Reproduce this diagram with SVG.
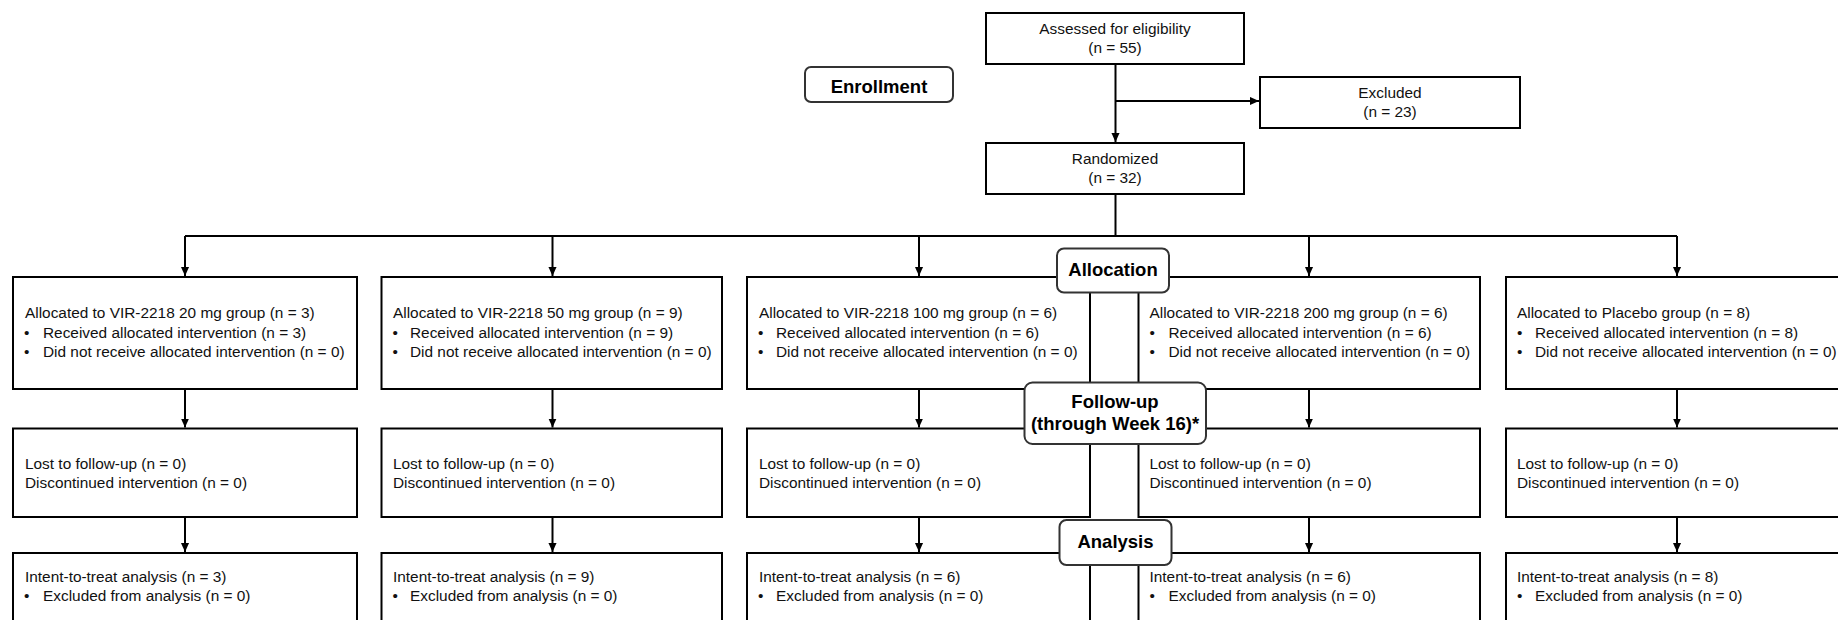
<svg xmlns="http://www.w3.org/2000/svg" width="1838" height="620" viewBox="0 0 1838 620">
<style>
.box{fill:#fff;stroke:#000;stroke-width:2}
.lbl{fill:#fff;stroke:#333;stroke-width:2}
.t{font-family:"Liberation Sans",Arial,sans-serif;font-size:15.4px;fill:#111}
.c{text-anchor:middle}
.b{font-family:"Liberation Sans",Arial,sans-serif;font-size:18.5px;font-weight:bold;fill:#000;text-anchor:middle}
.ln{fill:none;stroke:#000;stroke-width:2}
</style>
<defs>
<marker id="ah" viewBox="0 0 10 10" refX="10" refY="5" markerWidth="9" markerHeight="9" markerUnits="userSpaceOnUse" orient="auto">
<path d="M0,0.5 L10,5 L0,9.5 z" fill="#000"/>
</marker>
</defs>
<rect width="1838" height="620" fill="#fff"/>

<g id="assessed">
<rect class="box" x="986" y="13" width="258" height="51"/>
<text class="t c" x="1115" y="33.5">Assessed for eligibility</text>
<text class="t c" x="1115" y="52.5">(n = 55)</text>
</g>
<g id="excluded">
<rect class="box" x="1260" y="77" width="260" height="51"/>
<text class="t c" x="1390" y="97.5">Excluded</text>
<text class="t c" x="1390" y="116.5">(n = 23)</text>
</g>
<g id="randomized">
<rect class="box" x="986" y="143" width="258" height="51"/>
<text class="t c" x="1115" y="163.5">Randomized</text>
<text class="t c" x="1115" y="183">(n = 32)</text>
</g>

<g id="alloc1">
<rect class="box" x="13" y="277" width="344" height="112"/>
<text class="t" x="25" y="318">Allocated to VIR-2218 20 mg group (n = 3)</text>
<text class="t" x="24" y="337.7">•</text><text class="t" x="43" y="337.7">Received allocated intervention (n = 3)</text>
<text class="t" x="24" y="357.3">•</text><text class="t" x="43" y="357.3">Did not receive allocated intervention (n = 0)</text>
</g>
<g id="alloc2">
<rect class="box" x="381.5" y="277" width="340.5" height="112"/>
<text class="t" x="393" y="318">Allocated to VIR-2218 50 mg group (n = 9)</text>
<text class="t" x="392.5" y="337.7">•</text><text class="t" x="410" y="337.7">Received allocated intervention (n = 9)</text>
<text class="t" x="392.5" y="357.3">•</text><text class="t" x="410" y="357.3">Did not receive allocated intervention (n = 0)</text>
</g>
<g id="alloc3">
<rect class="box" x="747" y="277" width="343" height="112"/>
<text class="t" x="759" y="318">Allocated to VIR-2218 100 mg group (n = 6)</text>
<text class="t" x="758" y="337.7">•</text><text class="t" x="776" y="337.7">Received allocated intervention (n = 6)</text>
<text class="t" x="758" y="357.3">•</text><text class="t" x="776" y="357.3">Did not receive allocated intervention (n = 0)</text>
</g>
<g id="alloc4">
<rect class="box" x="1138.5" y="277" width="341.5" height="112"/>
<text class="t" x="1149.5" y="318">Allocated to VIR-2218 200 mg group (n = 6)</text>
<text class="t" x="1149.5" y="337.7">•</text><text class="t" x="1168.5" y="337.7">Received allocated intervention (n = 6)</text>
<text class="t" x="1149.5" y="357.3">•</text><text class="t" x="1168.5" y="357.3">Did not receive allocated intervention (n = 0)</text>
</g>
<g id="alloc5">
<rect class="box" x="1506" y="277" width="344" height="112"/>
<text class="t" x="1517" y="318">Allocated to Placebo group (n = 8)</text>
<text class="t" x="1517" y="337.7">•</text><text class="t" x="1535" y="337.7">Received allocated intervention (n = 8)</text>
<text class="t" x="1517" y="357.3">•</text><text class="t" x="1535" y="357.3">Did not receive allocated intervention (n = 0)</text>
</g>

<g id="follow1">
<rect class="box" x="13" y="428.5" width="344" height="88.5"/>
<text class="t" x="25" y="469.3">Lost to follow-up (n = 0)</text>
<text class="t" x="25" y="488.3">Discontinued intervention (n = 0)</text>
</g>
<g id="follow2">
<rect class="box" x="381.5" y="428.5" width="340.5" height="88.5"/>
<text class="t" x="393" y="469.3">Lost to follow-up (n = 0)</text>
<text class="t" x="393" y="488.3">Discontinued intervention (n = 0)</text>
</g>
<g id="follow3">
<rect class="box" x="747" y="428.5" width="343" height="88.5"/>
<text class="t" x="759" y="469.3">Lost to follow-up (n = 0)</text>
<text class="t" x="759" y="488.3">Discontinued intervention (n = 0)</text>
</g>
<g id="follow4">
<rect class="box" x="1138.5" y="428.5" width="341.5" height="88.5"/>
<text class="t" x="1149.5" y="469.3">Lost to follow-up (n = 0)</text>
<text class="t" x="1149.5" y="488.3">Discontinued intervention (n = 0)</text>
</g>
<g id="follow5">
<rect class="box" x="1506" y="428.5" width="344" height="88.5"/>
<text class="t" x="1517" y="469.3">Lost to follow-up (n = 0)</text>
<text class="t" x="1517" y="488.3">Discontinued intervention (n = 0)</text>
</g>

<g id="itt1">
<rect class="box" x="13" y="553" width="344" height="100"/>
<text class="t" x="25" y="582.3">Intent-to-treat analysis (n = 3)</text>
<text class="t" x="24" y="601">•</text><text class="t" x="43" y="601">Excluded from analysis (n = 0)</text>
</g>
<g id="itt2">
<rect class="box" x="381.5" y="553" width="340.5" height="100"/>
<text class="t" x="393" y="582.3">Intent-to-treat analysis (n = 9)</text>
<text class="t" x="392.5" y="601">•</text><text class="t" x="410" y="601">Excluded from analysis (n = 0)</text>
</g>
<g id="itt3">
<rect class="box" x="747" y="553" width="343" height="100"/>
<text class="t" x="759" y="582.3">Intent-to-treat analysis (n = 6)</text>
<text class="t" x="758" y="601">•</text><text class="t" x="776" y="601">Excluded from analysis (n = 0)</text>
</g>
<g id="itt4">
<rect class="box" x="1138.5" y="553" width="341.5" height="100"/>
<text class="t" x="1149.5" y="582.3">Intent-to-treat analysis (n = 6)</text>
<text class="t" x="1149.5" y="601">•</text><text class="t" x="1168.5" y="601">Excluded from analysis (n = 0)</text>
</g>
<g id="itt5">
<rect class="box" x="1506" y="553" width="344" height="100"/>
<text class="t" x="1517" y="582.3">Intent-to-treat analysis (n = 8)</text>
<text class="t" x="1517" y="601">•</text><text class="t" x="1535" y="601">Excluded from analysis (n = 0)</text>
</g>

<g id="connectors">
<path class="ln" d="M1115.5,64 V142" marker-end="url(#ah)"/>
<path class="ln" d="M1115.5,101 H1259" marker-end="url(#ah)"/>
<path class="ln" d="M1115.5,194 V236"/>
<path class="ln" d="M185,236 H1677"/>
<path class="ln" d="M185,236 V276" marker-end="url(#ah)"/>
<path class="ln" d="M552.5,236 V276" marker-end="url(#ah)"/>
<path class="ln" d="M919,236 V276" marker-end="url(#ah)"/>
<path class="ln" d="M1309,236 V276" marker-end="url(#ah)"/>
<path class="ln" d="M1677,236 V276" marker-end="url(#ah)"/>
<path class="ln" d="M185,389 V427.5" marker-end="url(#ah)"/>
<path class="ln" d="M552.5,389 V427.5" marker-end="url(#ah)"/>
<path class="ln" d="M919,389 V427.5" marker-end="url(#ah)"/>
<path class="ln" d="M1309,389 V427.5" marker-end="url(#ah)"/>
<path class="ln" d="M1677,389 V427.5" marker-end="url(#ah)"/>
<path class="ln" d="M185,517 V552" marker-end="url(#ah)"/>
<path class="ln" d="M552.5,517 V552" marker-end="url(#ah)"/>
<path class="ln" d="M919,517 V552" marker-end="url(#ah)"/>
<path class="ln" d="M1309,517 V552" marker-end="url(#ah)"/>
<path class="ln" d="M1677,517 V552" marker-end="url(#ah)"/>
</g>

<g id="enrollment">
<rect class="lbl" x="805" y="67" width="148" height="35" rx="6"/>
<text class="b" x="879" y="92.5">Enrollment</text>
</g>
<g id="allocation">
<rect class="lbl" x="1057" y="248.5" width="112" height="44" rx="7"/>
<text class="b" x="1113" y="276">Allocation</text>
</g>
<g id="followup">
<rect class="lbl" x="1024.5" y="382.5" width="181.5" height="61.5" rx="8"/>
<text class="b" x="1115" y="408">Follow-up</text>
<text class="b" x="1115" y="430">(through Week 16)*</text>
</g>
<g id="analysis">
<rect class="lbl" x="1059.5" y="520" width="112" height="45" rx="7"/>
<text class="b" x="1115.5" y="547.5">Analysis</text>
</g>
</svg>
